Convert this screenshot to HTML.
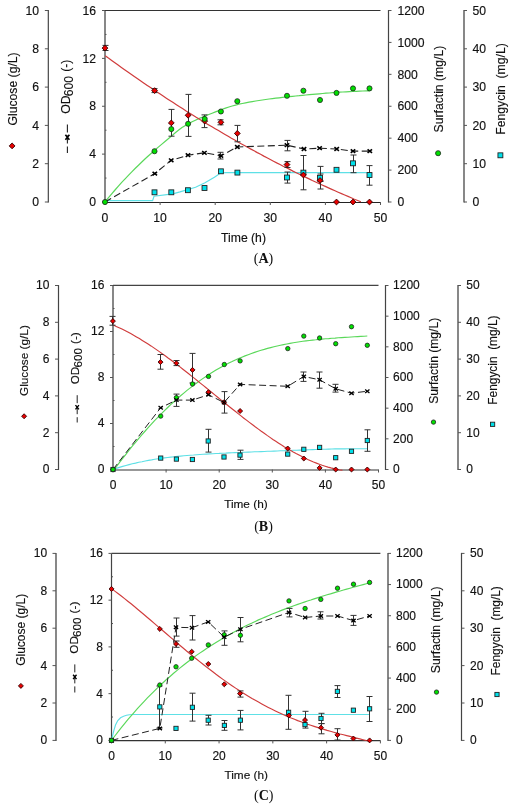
<!DOCTYPE html>
<html><head><meta charset="utf-8"><style>
html,body{margin:0;padding:0;background:#fff;}
svg{display:block;will-change:transform;}
text{font-family:"Liberation Sans", sans-serif;fill:#111;stroke:#111;stroke-width:0.15px;}
.cap{font-family:"Liberation Serif",serif;font-weight:bold;stroke-width:0;}
</style></head><body>
<svg width="512" height="809" viewBox="0 0 512 809">
<rect width="512" height="809" fill="#fff"/>
<line x1="48.35" y1="10" x2="48.35" y2="202.5" stroke="#555" stroke-width="1.3" />
<line x1="44.85" y1="202" x2="48.35" y2="202" stroke="#555" stroke-width="1" />
<text x="39" y="206.2" font-size="12.2" text-anchor="end" >0</text>
<line x1="44.85" y1="163.7" x2="48.35" y2="163.7" stroke="#555" stroke-width="1" />
<text x="39" y="167.9" font-size="12.2" text-anchor="end" >2</text>
<line x1="44.85" y1="125.4" x2="48.35" y2="125.4" stroke="#555" stroke-width="1" />
<text x="39" y="129.6" font-size="12.2" text-anchor="end" >4</text>
<line x1="44.85" y1="87.1" x2="48.35" y2="87.1" stroke="#555" stroke-width="1" />
<text x="39" y="91.3" font-size="12.2" text-anchor="end" >6</text>
<line x1="44.85" y1="48.8" x2="48.35" y2="48.8" stroke="#555" stroke-width="1" />
<text x="39" y="53" font-size="12.2" text-anchor="end" >8</text>
<line x1="44.85" y1="10.5" x2="48.35" y2="10.5" stroke="#555" stroke-width="1" />
<text x="39" y="14.7" font-size="12.2" text-anchor="end" >10</text>
<line x1="105" y1="10.5" x2="105" y2="202" stroke="#555" stroke-width="1.4" />
<line x1="102" y1="202" x2="105" y2="202" stroke="#555" stroke-width="1" />
<text x="96" y="206.2" font-size="12.2" text-anchor="end" >0</text>
<line x1="105" y1="178.06" x2="106.5" y2="178.06" stroke="#555" stroke-width="1" />
<line x1="102" y1="154.12" x2="105" y2="154.12" stroke="#555" stroke-width="1" />
<text x="96" y="158.32" font-size="12.2" text-anchor="end" >4</text>
<line x1="105" y1="130.19" x2="106.5" y2="130.19" stroke="#555" stroke-width="1" />
<line x1="102" y1="106.25" x2="105" y2="106.25" stroke="#555" stroke-width="1" />
<text x="96" y="110.45" font-size="12.2" text-anchor="end" >8</text>
<line x1="105" y1="82.31" x2="106.5" y2="82.31" stroke="#555" stroke-width="1" />
<line x1="102" y1="58.38" x2="105" y2="58.38" stroke="#555" stroke-width="1" />
<text x="96" y="62.58" font-size="12.2" text-anchor="end" >12</text>
<line x1="105" y1="34.44" x2="106.5" y2="34.44" stroke="#555" stroke-width="1" />
<line x1="102" y1="10.5" x2="105" y2="10.5" stroke="#555" stroke-width="1" />
<text x="96" y="14.7" font-size="12.2" text-anchor="end" >16</text>
<line x1="105" y1="10.5" x2="380.5" y2="10.5" stroke="#333" stroke-width="1" />
<line x1="105" y1="202.5" x2="380.5" y2="202.5" stroke="#222" stroke-width="1.15" />
<line x1="105" y1="202" x2="105" y2="205" stroke="#555" stroke-width="1" />
<text x="105" y="222.2" font-size="12.2" text-anchor="middle" >0</text>
<line x1="160.1" y1="202" x2="160.1" y2="205" stroke="#555" stroke-width="1" />
<text x="160.1" y="222.2" font-size="12.2" text-anchor="middle" >10</text>
<line x1="215.2" y1="202" x2="215.2" y2="205" stroke="#555" stroke-width="1" />
<text x="215.2" y="222.2" font-size="12.2" text-anchor="middle" >20</text>
<line x1="270.3" y1="202" x2="270.3" y2="205" stroke="#555" stroke-width="1" />
<text x="270.3" y="222.2" font-size="12.2" text-anchor="middle" >30</text>
<line x1="325.4" y1="202" x2="325.4" y2="205" stroke="#555" stroke-width="1" />
<text x="325.4" y="222.2" font-size="12.2" text-anchor="middle" >40</text>
<line x1="380.5" y1="202" x2="380.5" y2="205" stroke="#555" stroke-width="1" />
<text x="380.5" y="222.2" font-size="12.2" text-anchor="middle" >50</text>
<line x1="388.5" y1="10" x2="388.5" y2="202.5" stroke="#444" stroke-width="1.2" />
<line x1="388.5" y1="202" x2="391.5" y2="202" stroke="#555" stroke-width="1" />
<text x="397.4" y="206.2" font-size="12.2" text-anchor="start" >0</text>
<line x1="388.5" y1="170.08" x2="391.5" y2="170.08" stroke="#555" stroke-width="1" />
<text x="397.4" y="174.28" font-size="12.2" text-anchor="start" >200</text>
<line x1="388.5" y1="138.17" x2="391.5" y2="138.17" stroke="#555" stroke-width="1" />
<text x="397.4" y="142.37" font-size="12.2" text-anchor="start" >400</text>
<line x1="388.5" y1="106.25" x2="391.5" y2="106.25" stroke="#555" stroke-width="1" />
<text x="397.4" y="110.45" font-size="12.2" text-anchor="start" >600</text>
<line x1="388.5" y1="74.33" x2="391.5" y2="74.33" stroke="#555" stroke-width="1" />
<text x="397.4" y="78.53" font-size="12.2" text-anchor="start" >800</text>
<line x1="388.5" y1="42.42" x2="391.5" y2="42.42" stroke="#555" stroke-width="1" />
<text x="397.4" y="46.62" font-size="12.2" text-anchor="start" >1000</text>
<line x1="388.5" y1="10.5" x2="391.5" y2="10.5" stroke="#555" stroke-width="1" />
<text x="397.4" y="14.7" font-size="12.2" text-anchor="start" >1200</text>
<line x1="464" y1="10" x2="464" y2="202.5" stroke="#555" stroke-width="1.4" />
<line x1="464" y1="202" x2="467" y2="202" stroke="#555" stroke-width="1" />
<text x="472.4" y="206.2" font-size="12.2" text-anchor="start" >0</text>
<line x1="464" y1="163.7" x2="467" y2="163.7" stroke="#555" stroke-width="1" />
<text x="472.4" y="167.9" font-size="12.2" text-anchor="start" >10</text>
<line x1="464" y1="125.4" x2="467" y2="125.4" stroke="#555" stroke-width="1" />
<text x="472.4" y="129.6" font-size="12.2" text-anchor="start" >20</text>
<line x1="464" y1="87.1" x2="467" y2="87.1" stroke="#555" stroke-width="1" />
<text x="472.4" y="91.3" font-size="12.2" text-anchor="start" >30</text>
<line x1="464" y1="48.8" x2="467" y2="48.8" stroke="#555" stroke-width="1" />
<text x="472.4" y="53" font-size="12.2" text-anchor="start" >40</text>
<line x1="464" y1="10.5" x2="467" y2="10.5" stroke="#555" stroke-width="1" />
<text x="472.4" y="14.7" font-size="12.2" text-anchor="start" >50</text>
<text transform="translate(16.8,88.9) rotate(-90)" font-size="12.2" text-anchor="middle">Glucose (g/L)</text>
<text transform="translate(70.3,86.7) rotate(-90)" font-size="12.2" text-anchor="middle">OD<tspan dx="-0.8" dy="3">600</tspan><tspan dx="0.8" dy="-3"> (-)</tspan></text>
<text transform="translate(442.7,89.1) rotate(-90)" font-size="12.2" text-anchor="middle">Surfactin (mg/L)</text>
<text transform="translate(504.6,89) rotate(-90)" font-size="12.2" text-anchor="middle">Fengycin&#160; (mg/L)</text>
<text x="243.5" y="242" font-size="12.2" text-anchor="middle" >Time (h)</text>
<text x="263.5" y="263.4" font-size="14" text-anchor="middle" class="cap"><tspan style="font-weight:normal">(</tspan>A<tspan style="font-weight:normal">)</tspan></text>
<path d="M12.1,143 L15,145.9 L12.1,148.8 L9.2,145.9 Z" fill="#e80000" stroke="#300" stroke-width="0.9"/>
<line x1="67.4" y1="124.4" x2="67.4" y2="152.9" stroke="#222" stroke-width="1.1" stroke-dasharray="8,3"/>
<path d="M65.4,134.7 L69.4,139.7 M65.4,139.7 L69.4,134.7" stroke="#000" stroke-width="1.6"/>
<circle cx="438.1" cy="153.2" r="2.55" fill="#00e000" stroke="#222" stroke-width="0.8"/>
<rect x="497.95" y="152.85" width="4.9" height="4.9" fill="#00e0ea" stroke="#222" stroke-width="0.9"/>
<path d="M105.0,200.6 L152.6,200.6 L154.0,196.2 L172.8,193.8 L180.0,191.9 L195.6,187.2 L205.0,182.8 L214.4,177.3 L220.6,173.0 L226.0,172.7 L369.5,172.7" fill="none" stroke="#5ee0e6" stroke-width="1.2"/>
<path d="M105.0,202.0 L108.3,197.9 L111.7,193.9 L115.0,190.0 L118.4,186.1 L121.7,182.4 L125.1,178.8 L128.4,175.3 L131.8,171.9 L135.1,168.5 L138.5,165.2 L141.8,162.0 L145.2,158.8 L148.5,155.7 L151.9,152.7 L155.2,149.8 L158.6,146.9 L161.9,144.1 L165.3,141.3 L168.6,138.5 L172.0,135.6 L175.3,132.7 L178.7,130.0 L182.0,127.5 L185.4,125.4 L188.7,123.6 L192.1,121.8 L195.4,120.2 L198.7,118.6 L202.1,117.2 L205.4,115.8 L208.8,114.5 L212.1,113.2 L215.5,111.9 L218.8,110.6 L222.2,109.3 L225.5,108.1 L228.9,107.0 L232.2,106.0 L235.6,105.1 L238.9,104.2 L242.3,103.5 L245.6,102.8 L249.0,102.2 L252.3,101.6 L255.7,101.0 L259.0,100.5 L262.4,100.0 L265.7,99.5 L269.1,99.0 L272.4,98.6 L275.8,98.2 L279.1,97.8 L282.4,97.4 L285.8,97.0 L289.1,96.7 L292.5,96.3 L295.8,96.0 L299.2,95.7 L302.5,95.3 L305.9,95.0 L309.2,94.7 L312.6,94.4 L315.9,94.1 L319.3,93.8 L322.6,93.5 L326.0,93.2 L329.3,93.0 L332.7,92.7 L336.0,92.5 L339.4,92.2 L342.7,92.0 L346.1,91.8 L349.4,91.6 L352.8,91.4 L356.1,91.3 L359.5,91.1 L362.8,91.0 L366.2,90.9 L369.5,90.8" fill="none" stroke="#5ad85a" stroke-width="1.2"/>
<path d="M105.2,55.7 L108.4,58.1 L111.7,60.4 L114.9,62.8 L118.1,65.1 L121.4,67.4 L124.6,69.7 L127.9,72.0 L131.1,74.3 L134.3,76.5 L137.6,78.8 L140.8,81.0 L144.0,83.2 L147.3,85.4 L150.5,87.6 L153.8,89.8 L157.0,92.0 L160.2,94.1 L163.5,96.3 L166.7,98.4 L169.9,100.5 L173.2,102.6 L176.4,104.7 L179.6,106.8 L182.9,108.8 L186.1,110.9 L189.4,112.9 L192.6,114.9 L195.8,117.0 L199.1,118.9 L202.3,120.9 L205.5,122.9 L208.8,124.9 L212.0,126.8 L215.2,128.7 L218.5,130.6 L221.7,132.5 L225.0,134.4 L228.2,136.3 L231.4,138.2 L234.7,140.0 L237.9,141.9 L241.1,143.7 L244.4,145.5 L247.6,147.3 L250.9,149.1 L254.1,150.8 L257.3,152.6 L260.6,154.3 L263.8,156.1 L267.0,157.8 L270.3,159.5 L273.5,161.2 L276.7,162.9 L280.0,164.5 L283.2,166.2 L286.5,167.8 L289.7,169.4 L292.9,171.1 L296.2,172.7 L299.4,174.2 L302.6,175.8 L305.9,177.4 L309.1,178.9 L312.3,180.5 L315.6,182.0 L318.8,183.5 L322.1,185.0 L325.3,186.4 L328.5,187.9 L331.8,189.4 L335.0,190.8 L338.2,192.2 L341.5,193.6 L344.7,195.0 L348.0,196.4 L351.2,197.8 L354.4,199.2 L357.7,200.5 L360.9,201.8" fill="none" stroke="#d03c3c" stroke-width="1.2"/>
<path d="M105.0,202.0 L154.8,173.6 L171.2,160.3 L188.0,155.2 L204.4,152.8 L220.9,155.8 L237.3,147.0 L287.0,145.2 L304.0,149.0 L319.6,148.2 L336.7,149.0 L353.0,151.1 L369.8,151.1" fill="none" stroke="#222" stroke-width="1.1" stroke-dasharray="7,3.5"/>
<line x1="105.5" y1="45.4" x2="105.5" y2="50.5" stroke="#333" stroke-width="1" />
<line x1="102.5" y1="45.4" x2="108.5" y2="45.4" stroke="#333" stroke-width="1" />
<line x1="102.5" y1="50.5" x2="108.5" y2="50.5" stroke="#333" stroke-width="1" />
<line x1="154.5" y1="88.6" x2="154.5" y2="92.6" stroke="#333" stroke-width="1" />
<line x1="151.5" y1="88.6" x2="157.5" y2="88.6" stroke="#333" stroke-width="1" />
<line x1="151.5" y1="92.6" x2="157.5" y2="92.6" stroke="#333" stroke-width="1" />
<line x1="171.5" y1="109.4" x2="171.5" y2="136.2" stroke="#333" stroke-width="1" />
<line x1="168.5" y1="109.4" x2="174.5" y2="109.4" stroke="#333" stroke-width="1" />
<line x1="168.5" y1="136.2" x2="174.5" y2="136.2" stroke="#333" stroke-width="1" />
<line x1="188.5" y1="94.4" x2="188.5" y2="136.4" stroke="#333" stroke-width="1" />
<line x1="185.5" y1="94.4" x2="191.5" y2="94.4" stroke="#333" stroke-width="1" />
<line x1="185.5" y1="136.4" x2="191.5" y2="136.4" stroke="#333" stroke-width="1" />
<line x1="204.5" y1="114.9" x2="204.5" y2="127.6" stroke="#333" stroke-width="1" />
<line x1="201.5" y1="114.9" x2="207.5" y2="114.9" stroke="#333" stroke-width="1" />
<line x1="201.5" y1="127.6" x2="207.5" y2="127.6" stroke="#333" stroke-width="1" />
<line x1="237.5" y1="125.4" x2="237.5" y2="141.8" stroke="#333" stroke-width="1" />
<line x1="234.5" y1="125.4" x2="240.5" y2="125.4" stroke="#333" stroke-width="1" />
<line x1="234.5" y1="141.8" x2="240.5" y2="141.8" stroke="#333" stroke-width="1" />
<line x1="287.5" y1="161.6" x2="287.5" y2="167.5" stroke="#333" stroke-width="1" />
<line x1="284.5" y1="161.6" x2="290.5" y2="161.6" stroke="#333" stroke-width="1" />
<line x1="284.5" y1="167.5" x2="290.5" y2="167.5" stroke="#333" stroke-width="1" />
<line x1="303.5" y1="155.5" x2="303.5" y2="189.8" stroke="#333" stroke-width="1" />
<line x1="300.5" y1="155.5" x2="306.5" y2="155.5" stroke="#333" stroke-width="1" />
<line x1="300.5" y1="189.8" x2="306.5" y2="189.8" stroke="#333" stroke-width="1" />
<line x1="320.5" y1="166.4" x2="320.5" y2="189" stroke="#333" stroke-width="1" />
<line x1="317.5" y1="166.4" x2="323.5" y2="166.4" stroke="#333" stroke-width="1" />
<line x1="317.5" y1="189" x2="323.5" y2="189" stroke="#333" stroke-width="1" />
<line x1="287.5" y1="140.4" x2="287.5" y2="150.8" stroke="#333" stroke-width="1" />
<line x1="284.5" y1="140.4" x2="290.5" y2="140.4" stroke="#333" stroke-width="1" />
<line x1="284.5" y1="150.8" x2="290.5" y2="150.8" stroke="#333" stroke-width="1" />
<line x1="220.5" y1="152.3" x2="220.5" y2="159" stroke="#333" stroke-width="1" />
<line x1="217.5" y1="152.3" x2="223.5" y2="152.3" stroke="#333" stroke-width="1" />
<line x1="217.5" y1="159" x2="223.5" y2="159" stroke="#333" stroke-width="1" />
<line x1="220.5" y1="119.8" x2="220.5" y2="124.8" stroke="#333" stroke-width="1" />
<line x1="217.5" y1="119.8" x2="223.5" y2="119.8" stroke="#333" stroke-width="1" />
<line x1="217.5" y1="124.8" x2="223.5" y2="124.8" stroke="#333" stroke-width="1" />
<line x1="287.5" y1="172" x2="287.5" y2="183.1" stroke="#333" stroke-width="1" />
<line x1="284.5" y1="172" x2="290.5" y2="172" stroke="#333" stroke-width="1" />
<line x1="284.5" y1="183.1" x2="290.5" y2="183.1" stroke="#333" stroke-width="1" />
<line x1="353.5" y1="155" x2="353.5" y2="172.7" stroke="#333" stroke-width="1" />
<line x1="350.5" y1="155" x2="356.5" y2="155" stroke="#333" stroke-width="1" />
<line x1="350.5" y1="172.7" x2="356.5" y2="172.7" stroke="#333" stroke-width="1" />
<line x1="369.5" y1="165.6" x2="369.5" y2="185.2" stroke="#333" stroke-width="1" />
<line x1="366.5" y1="165.6" x2="372.5" y2="165.6" stroke="#333" stroke-width="1" />
<line x1="366.5" y1="185.2" x2="372.5" y2="185.2" stroke="#333" stroke-width="1" />
<line x1="320.5" y1="174" x2="320.5" y2="181.5" stroke="#333" stroke-width="1" />
<line x1="317.5" y1="174" x2="323.5" y2="174" stroke="#333" stroke-width="1" />
<line x1="317.5" y1="181.5" x2="323.5" y2="181.5" stroke="#333" stroke-width="1" />
<rect x="152.05" y="189.85" width="4.9" height="4.9" fill="#00e0ea" stroke="#222" stroke-width="0.9"/>
<rect x="168.85" y="189.85" width="4.9" height="4.9" fill="#00e0ea" stroke="#222" stroke-width="0.9"/>
<rect x="185.45" y="187.75" width="4.9" height="4.9" fill="#00e0ea" stroke="#222" stroke-width="0.9"/>
<rect x="202.05" y="185.55" width="4.9" height="4.9" fill="#00e0ea" stroke="#222" stroke-width="0.9"/>
<rect x="218.45" y="168.85" width="4.9" height="4.9" fill="#00e0ea" stroke="#222" stroke-width="0.9"/>
<rect x="234.95" y="170.15" width="4.9" height="4.9" fill="#00e0ea" stroke="#222" stroke-width="0.9"/>
<rect x="284.55" y="175.05" width="4.9" height="4.9" fill="#00e0ea" stroke="#222" stroke-width="0.9"/>
<rect x="300.95" y="170.15" width="4.9" height="4.9" fill="#00e0ea" stroke="#222" stroke-width="0.9"/>
<rect x="317.55" y="175.35" width="4.9" height="4.9" fill="#00e0ea" stroke="#222" stroke-width="0.9"/>
<rect x="334.05" y="167.35" width="4.9" height="4.9" fill="#00e0ea" stroke="#222" stroke-width="0.9"/>
<rect x="350.55" y="160.85" width="4.9" height="4.9" fill="#00e0ea" stroke="#222" stroke-width="0.9"/>
<rect x="367.05" y="172.55" width="4.9" height="4.9" fill="#00e0ea" stroke="#222" stroke-width="0.9"/>
<path d="M105,45.2 L107.9,48.1 L105,51 L102.1,48.1 Z" fill="#e80000" stroke="#300" stroke-width="0.9"/>
<path d="M154.6,87.7 L157.5,90.6 L154.6,93.5 L151.7,90.6 Z" fill="#e80000" stroke="#300" stroke-width="0.9"/>
<path d="M171.3,120 L174.2,122.9 L171.3,125.8 L168.4,122.9 Z" fill="#e80000" stroke="#300" stroke-width="0.9"/>
<path d="M188.1,112.4 L191,115.3 L188.1,118.2 L185.2,115.3 Z" fill="#e80000" stroke="#300" stroke-width="0.9"/>
<path d="M204.7,118.2 L207.6,121.1 L204.7,124 L201.8,121.1 Z" fill="#e80000" stroke="#300" stroke-width="0.9"/>
<path d="M220.9,119.4 L223.8,122.3 L220.9,125.2 L218,122.3 Z" fill="#e80000" stroke="#300" stroke-width="0.9"/>
<path d="M237.3,130.5 L240.2,133.4 L237.3,136.3 L234.4,133.4 Z" fill="#e80000" stroke="#300" stroke-width="0.9"/>
<path d="M287,161.7 L289.9,164.6 L287,167.5 L284.1,164.6 Z" fill="#e80000" stroke="#300" stroke-width="0.9"/>
<path d="M303.4,172.1 L306.3,175 L303.4,177.9 L300.5,175 Z" fill="#e80000" stroke="#300" stroke-width="0.9"/>
<path d="M320,177.6 L322.9,180.5 L320,183.4 L317.1,180.5 Z" fill="#e80000" stroke="#300" stroke-width="0.9"/>
<path d="M336.5,199.1 L339.4,202 L336.5,204.9 L333.6,202 Z" fill="#e80000" stroke="#300" stroke-width="0.9"/>
<path d="M353,199.1 L355.9,202 L353,204.9 L350.1,202 Z" fill="#e80000" stroke="#300" stroke-width="0.9"/>
<path d="M369.5,199.1 L372.4,202 L369.5,204.9 L366.6,202 Z" fill="#e80000" stroke="#300" stroke-width="0.9"/>
<circle cx="105" cy="202" r="2.55" fill="#00e000" stroke="#222" stroke-width="0.8"/>
<circle cx="154.5" cy="151.2" r="2.55" fill="#00e000" stroke="#222" stroke-width="0.8"/>
<circle cx="171.3" cy="129.1" r="2.55" fill="#00e000" stroke="#222" stroke-width="0.8"/>
<circle cx="188.1" cy="123.8" r="2.55" fill="#00e000" stroke="#222" stroke-width="0.8"/>
<circle cx="204.7" cy="118.9" r="2.55" fill="#00e000" stroke="#222" stroke-width="0.8"/>
<circle cx="220.9" cy="111.5" r="2.55" fill="#00e000" stroke="#222" stroke-width="0.8"/>
<circle cx="237.3" cy="101.2" r="2.55" fill="#00e000" stroke="#222" stroke-width="0.8"/>
<circle cx="287" cy="95.8" r="2.55" fill="#00e000" stroke="#222" stroke-width="0.8"/>
<circle cx="303.4" cy="90.7" r="2.55" fill="#00e000" stroke="#222" stroke-width="0.8"/>
<circle cx="320" cy="100" r="2.55" fill="#00e000" stroke="#222" stroke-width="0.8"/>
<circle cx="336.5" cy="92.9" r="2.55" fill="#00e000" stroke="#222" stroke-width="0.8"/>
<circle cx="353" cy="88.4" r="2.55" fill="#00e000" stroke="#222" stroke-width="0.8"/>
<circle cx="369.5" cy="88.4" r="2.55" fill="#00e000" stroke="#222" stroke-width="0.8"/>
<path d="M152.55,171.8 L157.05,175.4 M152.55,175.4 L157.05,171.8" stroke="#000" stroke-width="1.6"/>
<path d="M168.95,158.5 L173.45,162.1 M168.95,162.1 L173.45,158.5" stroke="#000" stroke-width="1.6"/>
<path d="M185.75,153.4 L190.25,157 M185.75,157 L190.25,153.4" stroke="#000" stroke-width="1.6"/>
<path d="M202.15,151 L206.65,154.6 M202.15,154.6 L206.65,151" stroke="#000" stroke-width="1.6"/>
<path d="M218.65,154 L223.15,157.6 M218.65,157.6 L223.15,154" stroke="#000" stroke-width="1.6"/>
<path d="M235.05,145.2 L239.55,148.8 M235.05,148.8 L239.55,145.2" stroke="#000" stroke-width="1.6"/>
<path d="M284.75,143.4 L289.25,147 M284.75,147 L289.25,143.4" stroke="#000" stroke-width="1.6"/>
<path d="M301.75,147.2 L306.25,150.8 M301.75,150.8 L306.25,147.2" stroke="#000" stroke-width="1.6"/>
<path d="M317.35,146.4 L321.85,150 M317.35,150 L321.85,146.4" stroke="#000" stroke-width="1.6"/>
<path d="M334.45,147.2 L338.95,150.8 M334.45,150.8 L338.95,147.2" stroke="#000" stroke-width="1.6"/>
<path d="M350.75,149.3 L355.25,152.9 M350.75,152.9 L355.25,149.3" stroke="#000" stroke-width="1.6"/>
<path d="M367.55,149.3 L372.05,152.9 M367.55,152.9 L372.05,149.3" stroke="#000" stroke-width="1.6"/>
<line x1="58.5" y1="285" x2="58.5" y2="470" stroke="#444" stroke-width="1.2" />
<line x1="55" y1="469.5" x2="58.5" y2="469.5" stroke="#555" stroke-width="1" />
<text x="49.4" y="473.4" font-size="12" text-anchor="end" >0</text>
<line x1="55" y1="432.7" x2="58.5" y2="432.7" stroke="#555" stroke-width="1" />
<text x="49.4" y="436.6" font-size="12" text-anchor="end" >2</text>
<line x1="55" y1="395.9" x2="58.5" y2="395.9" stroke="#555" stroke-width="1" />
<text x="49.4" y="399.8" font-size="12" text-anchor="end" >4</text>
<line x1="55" y1="359.1" x2="58.5" y2="359.1" stroke="#555" stroke-width="1" />
<text x="49.4" y="363" font-size="12" text-anchor="end" >6</text>
<line x1="55" y1="322.3" x2="58.5" y2="322.3" stroke="#555" stroke-width="1" />
<text x="49.4" y="326.2" font-size="12" text-anchor="end" >8</text>
<line x1="55" y1="285.5" x2="58.5" y2="285.5" stroke="#555" stroke-width="1" />
<text x="49.4" y="289.4" font-size="12" text-anchor="end" >10</text>
<line x1="113" y1="285.5" x2="113" y2="469.5" stroke="#555" stroke-width="1.4" />
<line x1="110" y1="469.5" x2="113" y2="469.5" stroke="#555" stroke-width="1" />
<text x="104.4" y="473.4" font-size="12" text-anchor="end" >0</text>
<line x1="113" y1="446.5" x2="114.5" y2="446.5" stroke="#555" stroke-width="1" />
<line x1="110" y1="423.5" x2="113" y2="423.5" stroke="#555" stroke-width="1" />
<text x="104.4" y="427.4" font-size="12" text-anchor="end" >4</text>
<line x1="113" y1="400.5" x2="114.5" y2="400.5" stroke="#555" stroke-width="1" />
<line x1="110" y1="377.5" x2="113" y2="377.5" stroke="#555" stroke-width="1" />
<text x="104.4" y="381.4" font-size="12" text-anchor="end" >8</text>
<line x1="113" y1="354.5" x2="114.5" y2="354.5" stroke="#555" stroke-width="1" />
<line x1="110" y1="331.5" x2="113" y2="331.5" stroke="#555" stroke-width="1" />
<text x="104.4" y="335.4" font-size="12" text-anchor="end" >12</text>
<line x1="113" y1="308.5" x2="114.5" y2="308.5" stroke="#555" stroke-width="1" />
<line x1="110" y1="285.5" x2="113" y2="285.5" stroke="#555" stroke-width="1" />
<text x="104.4" y="289.4" font-size="12" text-anchor="end" >16</text>
<line x1="113" y1="285.3" x2="378.5" y2="285.3" stroke="#444" stroke-width="1.2" />
<line x1="113" y1="470" x2="378.5" y2="470" stroke="#333" stroke-width="1.15" />
<line x1="113" y1="469.5" x2="113" y2="472.5" stroke="#555" stroke-width="1" />
<text x="113" y="488.9" font-size="12" text-anchor="middle" >0</text>
<line x1="166.1" y1="469.5" x2="166.1" y2="472.5" stroke="#555" stroke-width="1" />
<text x="166.1" y="488.9" font-size="12" text-anchor="middle" >10</text>
<line x1="219.2" y1="469.5" x2="219.2" y2="472.5" stroke="#555" stroke-width="1" />
<text x="219.2" y="488.9" font-size="12" text-anchor="middle" >20</text>
<line x1="272.3" y1="469.5" x2="272.3" y2="472.5" stroke="#555" stroke-width="1" />
<text x="272.3" y="488.9" font-size="12" text-anchor="middle" >30</text>
<line x1="325.4" y1="469.5" x2="325.4" y2="472.5" stroke="#555" stroke-width="1" />
<text x="325.4" y="488.9" font-size="12" text-anchor="middle" >40</text>
<line x1="378.5" y1="469.5" x2="378.5" y2="472.5" stroke="#555" stroke-width="1" />
<text x="378.5" y="488.9" font-size="12" text-anchor="middle" >50</text>
<line x1="385.5" y1="285" x2="385.5" y2="470" stroke="#444" stroke-width="1.2" />
<line x1="385.5" y1="469.5" x2="388.5" y2="469.5" stroke="#555" stroke-width="1" />
<text x="393.1" y="473.4" font-size="12" text-anchor="start" >0</text>
<line x1="385.5" y1="438.83" x2="388.5" y2="438.83" stroke="#555" stroke-width="1" />
<text x="393.1" y="442.73" font-size="12" text-anchor="start" >200</text>
<line x1="385.5" y1="408.17" x2="388.5" y2="408.17" stroke="#555" stroke-width="1" />
<text x="393.1" y="412.07" font-size="12" text-anchor="start" >400</text>
<line x1="385.5" y1="377.5" x2="388.5" y2="377.5" stroke="#555" stroke-width="1" />
<text x="393.1" y="381.4" font-size="12" text-anchor="start" >600</text>
<line x1="385.5" y1="346.83" x2="388.5" y2="346.83" stroke="#555" stroke-width="1" />
<text x="393.1" y="350.73" font-size="12" text-anchor="start" >800</text>
<line x1="385.5" y1="316.17" x2="388.5" y2="316.17" stroke="#555" stroke-width="1" />
<text x="393.1" y="320.07" font-size="12" text-anchor="start" >1000</text>
<line x1="385.5" y1="285.5" x2="388.5" y2="285.5" stroke="#555" stroke-width="1" />
<text x="393.1" y="289.4" font-size="12" text-anchor="start" >1200</text>
<line x1="458" y1="285" x2="458" y2="470" stroke="#555" stroke-width="1.4" />
<line x1="458" y1="469.5" x2="461" y2="469.5" stroke="#555" stroke-width="1" />
<text x="466.3" y="473.4" font-size="12" text-anchor="start" >0</text>
<line x1="458" y1="432.7" x2="461" y2="432.7" stroke="#555" stroke-width="1" />
<text x="466.3" y="436.6" font-size="12" text-anchor="start" >10</text>
<line x1="458" y1="395.9" x2="461" y2="395.9" stroke="#555" stroke-width="1" />
<text x="466.3" y="399.8" font-size="12" text-anchor="start" >20</text>
<line x1="458" y1="359.1" x2="461" y2="359.1" stroke="#555" stroke-width="1" />
<text x="466.3" y="363" font-size="12" text-anchor="start" >30</text>
<line x1="458" y1="322.3" x2="461" y2="322.3" stroke="#555" stroke-width="1" />
<text x="466.3" y="326.2" font-size="12" text-anchor="start" >40</text>
<line x1="458" y1="285.5" x2="461" y2="285.5" stroke="#555" stroke-width="1" />
<text x="466.3" y="289.4" font-size="12" text-anchor="start" >50</text>
<text transform="translate(28.2,360.6) rotate(-90)" font-size="11.8" text-anchor="middle">Glucose (g/L)</text>
<text transform="translate(79.2,358.3) rotate(-90)" font-size="11.7" text-anchor="middle">OD<tspan dx="-0.8" dy="3">600</tspan><tspan dx="0.8" dy="-3"> (-)</tspan></text>
<text transform="translate(437.6,360.8) rotate(-90)" font-size="12.1" text-anchor="middle">Surfactin (mg/L)</text>
<text transform="translate(497.1,360.1) rotate(-90)" font-size="11.9" text-anchor="middle">Fengycin&#160; (mg/L)</text>
<text x="245.9" y="507.7" font-size="11.8" text-anchor="middle" >Time (h)</text>
<text x="263.5" y="531" font-size="14" text-anchor="middle" class="cap"><tspan style="font-weight:normal">(</tspan>B<tspan style="font-weight:normal">)</tspan></text>
<path d="M24.1,413.76 L26.59,416.25 L24.1,418.74 L21.61,416.25 Z" fill="#e80000" stroke="#300" stroke-width="0.9"/>
<line x1="77.2" y1="395.2" x2="77.2" y2="422.5" stroke="#222" stroke-width="1.0" stroke-dasharray="8,3"/>
<path d="M75.48,405.05 L78.92,409.35 M75.48,409.35 L78.92,405.05" stroke="#000" stroke-width="1.35"/>
<circle cx="433.5" cy="422.1" r="2.1929999999999996" fill="#00e000" stroke="#222" stroke-width="0.8"/>
<rect x="490.49" y="422.19" width="4.214" height="4.214" fill="#00e0ea" stroke="#222" stroke-width="0.9"/>
<path d="M113.0,469.4 L116.2,468.4 L119.4,467.4 L122.7,466.4 L125.9,465.5 L129.1,464.6 L132.3,463.8 L135.5,463.1 L138.8,462.3 L142.0,461.7 L145.2,461.0 L148.4,460.4 L151.6,459.9 L154.8,459.3 L158.1,458.8 L161.3,458.3 L164.5,457.9 L167.7,457.5 L170.9,457.1 L174.2,456.7 L177.4,456.4 L180.6,456.1 L183.8,455.8 L187.0,455.5 L190.3,455.2 L193.5,455.0 L196.7,454.7 L199.9,454.5 L203.1,454.3 L206.4,454.1 L209.6,453.9 L212.8,453.7 L216.0,453.5 L219.2,453.4 L222.4,453.2 L225.7,453.1 L228.9,452.9 L232.1,452.8 L235.3,452.6 L238.5,452.5 L241.8,452.4 L245.0,452.2 L248.2,452.1 L251.4,452.0 L254.6,451.8 L257.9,451.7 L261.1,451.6 L264.3,451.5 L267.5,451.3 L270.7,451.2 L273.9,451.1 L277.2,451.0 L280.4,450.8 L283.6,450.7 L286.8,450.6 L290.0,450.5 L293.3,450.3 L296.5,450.2 L299.7,450.1 L302.9,450.0 L306.1,449.9 L309.4,449.7 L312.6,449.6 L315.8,449.5 L319.0,449.4 L322.2,449.3 L325.5,449.2 L328.7,449.1 L331.9,449.0 L335.1,448.9 L338.3,448.9 L341.5,448.8 L344.8,448.8 L348.0,448.7 L351.2,448.7 L354.4,448.7 L357.6,448.7 L360.9,448.7 L364.1,448.7 L367.3,448.8" fill="none" stroke="#5ee0e6" stroke-width="1.15"/>
<path d="M113.0,471.4 L116.2,467.0 L119.4,462.7 L122.7,458.4 L125.9,454.3 L129.1,450.2 L132.3,446.2 L135.5,442.3 L138.8,438.4 L142.0,434.7 L145.2,431.0 L148.4,427.4 L151.6,423.9 L154.8,420.4 L158.1,417.1 L161.3,413.8 L164.5,410.6 L167.7,407.5 L170.9,404.4 L174.2,401.5 L177.4,398.6 L180.6,395.8 L183.8,393.1 L187.0,390.4 L190.3,387.9 L193.5,385.4 L196.7,383.0 L199.9,380.6 L203.1,378.4 L206.4,376.2 L209.6,374.1 L212.8,372.1 L216.0,370.1 L219.2,368.3 L222.4,366.5 L225.7,364.8 L228.9,363.1 L232.1,361.6 L235.3,360.0 L238.5,358.6 L241.8,357.2 L245.0,355.9 L248.2,354.7 L251.4,353.5 L254.6,352.4 L257.9,351.3 L261.1,350.3 L264.3,349.4 L267.5,348.4 L270.7,347.6 L273.9,346.8 L277.2,346.0 L280.4,345.3 L283.6,344.6 L286.8,344.0 L290.0,343.4 L293.3,342.8 L296.5,342.3 L299.7,341.8 L302.9,341.3 L306.1,340.9 L309.4,340.5 L312.6,340.1 L315.8,339.8 L319.0,339.4 L322.2,339.1 L325.5,338.8 L328.7,338.6 L331.9,338.3 L335.1,338.1 L338.3,337.8 L341.5,337.6 L344.8,337.4 L348.0,337.2 L351.2,337.0 L354.4,336.8 L357.6,336.6 L360.9,336.4 L364.1,336.2 L367.3,336.0" fill="none" stroke="#5ad85a" stroke-width="1.15"/>
<path d="M113.3,325.1 L116.2,326.4 L119.1,327.7 L122.0,329.1 L124.9,330.5 L127.8,332.0 L130.7,333.6 L133.6,335.2 L136.5,336.9 L139.4,338.6 L142.3,340.4 L145.2,342.2 L148.1,344.0 L151.0,345.9 L153.9,347.9 L156.8,349.9 L159.7,351.9 L162.6,354.0 L165.5,356.0 L168.4,358.2 L171.3,360.3 L174.2,362.5 L177.1,364.7 L180.0,366.9 L182.9,369.2 L185.8,371.5 L188.7,373.8 L191.6,376.1 L194.5,378.4 L197.4,380.7 L200.3,383.1 L203.2,385.4 L206.1,387.8 L209.0,390.1 L211.9,392.5 L214.8,394.9 L217.7,397.2 L220.6,399.6 L223.5,402.0 L226.4,404.3 L229.4,406.7 L232.3,409.0 L235.2,411.3 L238.1,413.6 L241.0,415.9 L243.9,418.2 L246.8,420.4 L249.7,422.6 L252.6,424.8 L255.5,427.0 L258.4,429.1 L261.3,431.3 L264.2,433.3 L267.1,435.4 L270.0,437.4 L272.9,439.4 L275.8,441.3 L278.7,443.2 L281.6,445.1 L284.5,446.9 L287.4,448.6 L290.3,450.3 L293.2,452.0 L296.1,453.6 L299.0,455.1 L301.9,456.6 L304.8,458.0 L307.7,459.4 L310.6,460.7 L313.5,462.0 L316.4,463.1 L319.3,464.2 L322.2,465.3 L325.1,466.2 L328.0,467.1 L330.9,467.9 L333.8,468.6 L336.7,469.3 L339.6,469.9 L342.5,470.3" fill="none" stroke="#d03c3c" stroke-width="1.15"/>
<path d="M113.0,469.5 L160.7,407.7 L176.4,400.1 L192.4,400.1 L208.5,394.8 L224.0,402.5 L240.1,384.4 L287.7,386.3 L303.8,376.5 L319.6,379.8 L335.7,388.8 L351.5,393.2 L367.3,391.2" fill="none" stroke="#222" stroke-width="1.0" stroke-dasharray="7,3.5"/>
<line x1="112.5" y1="316.4" x2="112.5" y2="325.2" stroke="#333" stroke-width="1" />
<line x1="109.5" y1="316.4" x2="115.5" y2="316.4" stroke="#333" stroke-width="1" />
<line x1="109.5" y1="325.2" x2="115.5" y2="325.2" stroke="#333" stroke-width="1" />
<line x1="160.5" y1="354.5" x2="160.5" y2="369.2" stroke="#333" stroke-width="1" />
<line x1="157.5" y1="354.5" x2="163.5" y2="354.5" stroke="#333" stroke-width="1" />
<line x1="157.5" y1="369.2" x2="163.5" y2="369.2" stroke="#333" stroke-width="1" />
<line x1="176.5" y1="360.5" x2="176.5" y2="365.6" stroke="#333" stroke-width="1" />
<line x1="173.5" y1="360.5" x2="179.5" y2="360.5" stroke="#333" stroke-width="1" />
<line x1="173.5" y1="365.6" x2="179.5" y2="365.6" stroke="#333" stroke-width="1" />
<line x1="192.5" y1="353.4" x2="192.5" y2="383" stroke="#333" stroke-width="1" />
<line x1="189.5" y1="353.4" x2="195.5" y2="353.4" stroke="#333" stroke-width="1" />
<line x1="189.5" y1="383" x2="195.5" y2="383" stroke="#333" stroke-width="1" />
<line x1="224.5" y1="391.6" x2="224.5" y2="413.1" stroke="#333" stroke-width="1" />
<line x1="221.5" y1="391.6" x2="227.5" y2="391.6" stroke="#333" stroke-width="1" />
<line x1="221.5" y1="413.1" x2="227.5" y2="413.1" stroke="#333" stroke-width="1" />
<line x1="176.5" y1="394.1" x2="176.5" y2="406.4" stroke="#333" stroke-width="1" />
<line x1="173.5" y1="394.1" x2="179.5" y2="394.1" stroke="#333" stroke-width="1" />
<line x1="173.5" y1="406.4" x2="179.5" y2="406.4" stroke="#333" stroke-width="1" />
<line x1="303.5" y1="372" x2="303.5" y2="381.4" stroke="#333" stroke-width="1" />
<line x1="300.5" y1="372" x2="306.5" y2="372" stroke="#333" stroke-width="1" />
<line x1="300.5" y1="381.4" x2="306.5" y2="381.4" stroke="#333" stroke-width="1" />
<line x1="319.5" y1="372" x2="319.5" y2="388.2" stroke="#333" stroke-width="1" />
<line x1="316.5" y1="372" x2="322.5" y2="372" stroke="#333" stroke-width="1" />
<line x1="316.5" y1="388.2" x2="322.5" y2="388.2" stroke="#333" stroke-width="1" />
<line x1="335.5" y1="384.3" x2="335.5" y2="392.1" stroke="#333" stroke-width="1" />
<line x1="332.5" y1="384.3" x2="338.5" y2="384.3" stroke="#333" stroke-width="1" />
<line x1="332.5" y1="392.1" x2="338.5" y2="392.1" stroke="#333" stroke-width="1" />
<line x1="208.5" y1="429.3" x2="208.5" y2="452.1" stroke="#333" stroke-width="1" />
<line x1="205.5" y1="429.3" x2="211.5" y2="429.3" stroke="#333" stroke-width="1" />
<line x1="205.5" y1="452.1" x2="211.5" y2="452.1" stroke="#333" stroke-width="1" />
<line x1="240.5" y1="450.2" x2="240.5" y2="459.4" stroke="#333" stroke-width="1" />
<line x1="237.5" y1="450.2" x2="243.5" y2="450.2" stroke="#333" stroke-width="1" />
<line x1="237.5" y1="459.4" x2="243.5" y2="459.4" stroke="#333" stroke-width="1" />
<line x1="367.5" y1="429.8" x2="367.5" y2="451.3" stroke="#333" stroke-width="1" />
<line x1="364.5" y1="429.8" x2="370.5" y2="429.8" stroke="#333" stroke-width="1" />
<line x1="364.5" y1="451.3" x2="370.5" y2="451.3" stroke="#333" stroke-width="1" />
<rect x="110.89" y="467.39" width="4.214" height="4.214" fill="#00e0ea" stroke="#222" stroke-width="0.9"/>
<rect x="158.59" y="455.99" width="4.214" height="4.214" fill="#00e0ea" stroke="#222" stroke-width="0.9"/>
<rect x="174.29" y="456.99" width="4.214" height="4.214" fill="#00e0ea" stroke="#222" stroke-width="0.9"/>
<rect x="190.29" y="457.39" width="4.214" height="4.214" fill="#00e0ea" stroke="#222" stroke-width="0.9"/>
<rect x="206.09" y="438.89" width="4.214" height="4.214" fill="#00e0ea" stroke="#222" stroke-width="0.9"/>
<rect x="221.89" y="454.89" width="4.214" height="4.214" fill="#00e0ea" stroke="#222" stroke-width="0.9"/>
<rect x="237.89" y="452.99" width="4.214" height="4.214" fill="#00e0ea" stroke="#222" stroke-width="0.9"/>
<rect x="285.59" y="451.99" width="4.214" height="4.214" fill="#00e0ea" stroke="#222" stroke-width="0.9"/>
<rect x="301.69" y="447.19" width="4.214" height="4.214" fill="#00e0ea" stroke="#222" stroke-width="0.9"/>
<rect x="317.49" y="445.29" width="4.214" height="4.214" fill="#00e0ea" stroke="#222" stroke-width="0.9"/>
<rect x="333.59" y="455.59" width="4.214" height="4.214" fill="#00e0ea" stroke="#222" stroke-width="0.9"/>
<rect x="349.39" y="449.19" width="4.214" height="4.214" fill="#00e0ea" stroke="#222" stroke-width="0.9"/>
<rect x="365.19" y="438.39" width="4.214" height="4.214" fill="#00e0ea" stroke="#222" stroke-width="0.9"/>
<path d="M112.9,318.61 L115.39,321.1 L112.9,323.59 L110.41,321.1 Z" fill="#e80000" stroke="#300" stroke-width="0.9"/>
<path d="M160.5,359.61 L162.99,362.1 L160.5,364.59 L158.01,362.1 Z" fill="#e80000" stroke="#300" stroke-width="0.9"/>
<path d="M176.4,360.71 L178.89,363.2 L176.4,365.69 L173.91,363.2 Z" fill="#e80000" stroke="#300" stroke-width="0.9"/>
<path d="M192.5,367.41 L194.99,369.9 L192.5,372.39 L190.01,369.9 Z" fill="#e80000" stroke="#300" stroke-width="0.9"/>
<path d="M208.4,389.71 L210.89,392.2 L208.4,394.69 L205.91,392.2 Z" fill="#e80000" stroke="#300" stroke-width="0.9"/>
<path d="M224,399.81 L226.49,402.3 L224,404.79 L221.51,402.3 Z" fill="#e80000" stroke="#300" stroke-width="0.9"/>
<path d="M240.1,408.51 L242.59,411 L240.1,413.49 L237.61,411 Z" fill="#e80000" stroke="#300" stroke-width="0.9"/>
<path d="M287.7,446.01 L290.19,448.5 L287.7,450.99 L285.21,448.5 Z" fill="#e80000" stroke="#300" stroke-width="0.9"/>
<path d="M303.8,456.01 L306.29,458.5 L303.8,460.99 L301.31,458.5 Z" fill="#e80000" stroke="#300" stroke-width="0.9"/>
<path d="M319.6,465.41 L322.09,467.9 L319.6,470.39 L317.11,467.9 Z" fill="#e80000" stroke="#300" stroke-width="0.9"/>
<path d="M335.7,467.01 L338.19,469.5 L335.7,471.99 L333.21,469.5 Z" fill="#e80000" stroke="#300" stroke-width="0.9"/>
<path d="M351.5,467.01 L353.99,469.5 L351.5,471.99 L349.01,469.5 Z" fill="#e80000" stroke="#300" stroke-width="0.9"/>
<path d="M367.3,467.01 L369.79,469.5 L367.3,471.99 L364.81,469.5 Z" fill="#e80000" stroke="#300" stroke-width="0.9"/>
<circle cx="113" cy="469.5" r="2.1929999999999996" fill="#00e000" stroke="#222" stroke-width="0.8"/>
<circle cx="160.7" cy="416.1" r="2.1929999999999996" fill="#00e000" stroke="#222" stroke-width="0.8"/>
<circle cx="176.4" cy="397.6" r="2.1929999999999996" fill="#00e000" stroke="#222" stroke-width="0.8"/>
<circle cx="192.5" cy="384" r="2.1929999999999996" fill="#00e000" stroke="#222" stroke-width="0.8"/>
<circle cx="208.5" cy="376.4" r="2.1929999999999996" fill="#00e000" stroke="#222" stroke-width="0.8"/>
<circle cx="224.3" cy="364.5" r="2.1929999999999996" fill="#00e000" stroke="#222" stroke-width="0.8"/>
<circle cx="240.1" cy="360.9" r="2.1929999999999996" fill="#00e000" stroke="#222" stroke-width="0.8"/>
<circle cx="287.8" cy="348.6" r="2.1929999999999996" fill="#00e000" stroke="#222" stroke-width="0.8"/>
<circle cx="303.8" cy="336.1" r="2.1929999999999996" fill="#00e000" stroke="#222" stroke-width="0.8"/>
<circle cx="319.6" cy="338" r="2.1929999999999996" fill="#00e000" stroke="#222" stroke-width="0.8"/>
<circle cx="335.7" cy="343.7" r="2.1929999999999996" fill="#00e000" stroke="#222" stroke-width="0.8"/>
<circle cx="351.5" cy="326.7" r="2.1929999999999996" fill="#00e000" stroke="#222" stroke-width="0.8"/>
<circle cx="367.3" cy="345.3" r="2.1929999999999996" fill="#00e000" stroke="#222" stroke-width="0.8"/>
<path d="M158.55,405.98 L162.85,409.42 M158.55,409.42 L162.85,405.98" stroke="#000" stroke-width="1.35"/>
<path d="M174.25,398.38 L178.55,401.82 M174.25,401.82 L178.55,398.38" stroke="#000" stroke-width="1.35"/>
<path d="M190.25,398.38 L194.55,401.82 M190.25,401.82 L194.55,398.38" stroke="#000" stroke-width="1.35"/>
<path d="M206.35,393.08 L210.65,396.52 M206.35,396.52 L210.65,393.08" stroke="#000" stroke-width="1.35"/>
<path d="M221.85,400.78 L226.15,404.22 M221.85,404.22 L226.15,400.78" stroke="#000" stroke-width="1.35"/>
<path d="M237.95,382.68 L242.25,386.12 M237.95,386.12 L242.25,382.68" stroke="#000" stroke-width="1.35"/>
<path d="M285.55,384.58 L289.85,388.02 M285.55,388.02 L289.85,384.58" stroke="#000" stroke-width="1.35"/>
<path d="M301.65,374.78 L305.95,378.22 M301.65,378.22 L305.95,374.78" stroke="#000" stroke-width="1.35"/>
<path d="M317.45,378.08 L321.75,381.52 M317.45,381.52 L321.75,378.08" stroke="#000" stroke-width="1.35"/>
<path d="M333.55,387.08 L337.85,390.52 M333.55,390.52 L337.85,387.08" stroke="#000" stroke-width="1.35"/>
<path d="M349.35,391.48 L353.65,394.92 M349.35,394.92 L353.65,391.48" stroke="#000" stroke-width="1.35"/>
<path d="M365.15,389.48 L369.45,392.92 M365.15,392.92 L369.45,389.48" stroke="#000" stroke-width="1.35"/>
<line x1="56" y1="552.9" x2="56" y2="740.9" stroke="#555" stroke-width="1.4" />
<line x1="52.5" y1="740.4" x2="56" y2="740.4" stroke="#555" stroke-width="1" />
<text x="47.1" y="744.3" font-size="12" text-anchor="end" >0</text>
<line x1="52.5" y1="703" x2="56" y2="703" stroke="#555" stroke-width="1" />
<text x="47.1" y="706.9" font-size="12" text-anchor="end" >2</text>
<line x1="52.5" y1="665.6" x2="56" y2="665.6" stroke="#555" stroke-width="1" />
<text x="47.1" y="669.5" font-size="12" text-anchor="end" >4</text>
<line x1="52.5" y1="628.2" x2="56" y2="628.2" stroke="#555" stroke-width="1" />
<text x="47.1" y="632.1" font-size="12" text-anchor="end" >6</text>
<line x1="52.5" y1="590.8" x2="56" y2="590.8" stroke="#555" stroke-width="1" />
<text x="47.1" y="594.7" font-size="12" text-anchor="end" >8</text>
<line x1="52.5" y1="553.4" x2="56" y2="553.4" stroke="#555" stroke-width="1" />
<text x="47.1" y="557.3" font-size="12" text-anchor="end" >10</text>
<line x1="111.5" y1="553.4" x2="111.5" y2="740.4" stroke="#444" stroke-width="1.2" />
<line x1="108.5" y1="740.4" x2="111.5" y2="740.4" stroke="#555" stroke-width="1" />
<text x="103" y="744.3" font-size="12" text-anchor="end" >0</text>
<line x1="111.5" y1="717.02" x2="113" y2="717.02" stroke="#555" stroke-width="1" />
<line x1="108.5" y1="693.65" x2="111.5" y2="693.65" stroke="#555" stroke-width="1" />
<text x="103" y="697.55" font-size="12" text-anchor="end" >4</text>
<line x1="111.5" y1="670.27" x2="113" y2="670.27" stroke="#555" stroke-width="1" />
<line x1="108.5" y1="646.9" x2="111.5" y2="646.9" stroke="#555" stroke-width="1" />
<text x="103" y="650.8" font-size="12" text-anchor="end" >8</text>
<line x1="111.5" y1="623.52" x2="113" y2="623.52" stroke="#555" stroke-width="1" />
<line x1="108.5" y1="600.15" x2="111.5" y2="600.15" stroke="#555" stroke-width="1" />
<text x="103" y="604.05" font-size="12" text-anchor="end" >12</text>
<line x1="111.5" y1="576.77" x2="113" y2="576.77" stroke="#555" stroke-width="1" />
<line x1="108.5" y1="553.4" x2="111.5" y2="553.4" stroke="#555" stroke-width="1" />
<text x="103" y="557.3" font-size="12" text-anchor="end" >16</text>
<line x1="111.5" y1="553.3" x2="380.4" y2="553.3" stroke="#444" stroke-width="1.2" />
<line x1="111.5" y1="740.6" x2="380.4" y2="740.6" stroke="#333" stroke-width="1.15" />
<line x1="111.5" y1="740.4" x2="111.5" y2="743.4" stroke="#555" stroke-width="1" />
<text x="111.5" y="760" font-size="12" text-anchor="middle" >0</text>
<line x1="165.28" y1="740.4" x2="165.28" y2="743.4" stroke="#555" stroke-width="1" />
<text x="165.28" y="760" font-size="12" text-anchor="middle" >10</text>
<line x1="219.06" y1="740.4" x2="219.06" y2="743.4" stroke="#555" stroke-width="1" />
<text x="219.06" y="760" font-size="12" text-anchor="middle" >20</text>
<line x1="272.84" y1="740.4" x2="272.84" y2="743.4" stroke="#555" stroke-width="1" />
<text x="272.84" y="760" font-size="12" text-anchor="middle" >30</text>
<line x1="326.62" y1="740.4" x2="326.62" y2="743.4" stroke="#555" stroke-width="1" />
<text x="326.62" y="760" font-size="12" text-anchor="middle" >40</text>
<line x1="380.4" y1="740.4" x2="380.4" y2="743.4" stroke="#555" stroke-width="1" />
<text x="380.4" y="760" font-size="12" text-anchor="middle" >50</text>
<line x1="388" y1="552.9" x2="388" y2="740.9" stroke="#555" stroke-width="1.4" />
<line x1="388" y1="740.4" x2="391" y2="740.4" stroke="#555" stroke-width="1" />
<text x="396" y="744.3" font-size="12" text-anchor="start" >0</text>
<line x1="388" y1="709.23" x2="391" y2="709.23" stroke="#555" stroke-width="1" />
<text x="396" y="713.13" font-size="12" text-anchor="start" >200</text>
<line x1="388" y1="678.07" x2="391" y2="678.07" stroke="#555" stroke-width="1" />
<text x="396" y="681.97" font-size="12" text-anchor="start" >400</text>
<line x1="388" y1="646.9" x2="391" y2="646.9" stroke="#555" stroke-width="1" />
<text x="396" y="650.8" font-size="12" text-anchor="start" >600</text>
<line x1="388" y1="615.73" x2="391" y2="615.73" stroke="#555" stroke-width="1" />
<text x="396" y="619.63" font-size="12" text-anchor="start" >800</text>
<line x1="388" y1="584.57" x2="391" y2="584.57" stroke="#555" stroke-width="1" />
<text x="396" y="588.47" font-size="12" text-anchor="start" >1000</text>
<line x1="388" y1="553.4" x2="391" y2="553.4" stroke="#555" stroke-width="1" />
<text x="396" y="557.3" font-size="12" text-anchor="start" >1200</text>
<line x1="461.5" y1="552.9" x2="461.5" y2="740.9" stroke="#444" stroke-width="1.2" />
<line x1="461.5" y1="740.4" x2="464.5" y2="740.4" stroke="#555" stroke-width="1" />
<text x="470" y="744.3" font-size="12" text-anchor="start" >0</text>
<line x1="461.5" y1="703" x2="464.5" y2="703" stroke="#555" stroke-width="1" />
<text x="470" y="706.9" font-size="12" text-anchor="start" >10</text>
<line x1="461.5" y1="665.6" x2="464.5" y2="665.6" stroke="#555" stroke-width="1" />
<text x="470" y="669.5" font-size="12" text-anchor="start" >20</text>
<line x1="461.5" y1="628.2" x2="464.5" y2="628.2" stroke="#555" stroke-width="1" />
<text x="470" y="632.1" font-size="12" text-anchor="start" >30</text>
<line x1="461.5" y1="590.8" x2="464.5" y2="590.8" stroke="#555" stroke-width="1" />
<text x="470" y="594.7" font-size="12" text-anchor="start" >40</text>
<line x1="461.5" y1="553.4" x2="464.5" y2="553.4" stroke="#555" stroke-width="1" />
<text x="470" y="557.3" font-size="12" text-anchor="start" >50</text>
<text transform="translate(25.4,629.8) rotate(-90)" font-size="12" text-anchor="middle">Glucose (g/L)</text>
<text transform="translate(77.6,627.7) rotate(-90)" font-size="11.7" text-anchor="middle">OD<tspan dx="-0.8" dy="3">600</tspan><tspan dx="0.8" dy="-3"> (-)</tspan></text>
<text transform="translate(439.5,629.8) rotate(-90)" font-size="12.2" text-anchor="middle">Surfactin (mg/L)</text>
<text transform="translate(500.2,630.8) rotate(-90)" font-size="11.9" text-anchor="middle">Fengycin&#160; (mg/L)</text>
<text x="246.2" y="779" font-size="11.8" text-anchor="middle" >Time (h)</text>
<text x="263.7" y="800" font-size="14" text-anchor="middle" class="cap"><tspan style="font-weight:normal">(</tspan>C<tspan style="font-weight:normal">)</tspan></text>
<path d="M20.9,683.41 L23.39,685.9 L20.9,688.39 L18.41,685.9 Z" fill="#e80000" stroke="#300" stroke-width="0.9"/>
<line x1="74.8" y1="664.4" x2="74.8" y2="692.5" stroke="#222" stroke-width="1.0" stroke-dasharray="8,3"/>
<path d="M73.08,674.75 L76.52,679.05 M73.08,679.05 L76.52,674.75" stroke="#000" stroke-width="1.35"/>
<circle cx="436.5" cy="692.1" r="2.1929999999999996" fill="#00e000" stroke="#222" stroke-width="0.8"/>
<rect x="494.89" y="692.39" width="4.214" height="4.214" fill="#00e0ea" stroke="#222" stroke-width="0.9"/>
<path d="M111.5,740.4 L112.5,736.0 L113.9,730.3 L115.5,725.0 L117.8,720.5 L120.5,717.8 L123.6,716.2 L126.5,715.3 L129.5,714.8 L133.0,714.5 L369.6,714.5" fill="none" stroke="#5ee0e6" stroke-width="1.15"/>
<path d="M111.5,740.3 L114.8,736.0 L118.0,731.8 L121.3,727.7 L124.6,723.6 L127.8,719.7 L131.1,715.8 L134.4,712.1 L137.6,708.4 L140.9,704.8 L144.2,701.3 L147.4,697.9 L150.7,694.6 L154.0,691.3 L157.2,688.1 L160.5,685.0 L163.8,682.0 L167.0,679.0 L170.3,676.2 L173.6,673.3 L176.8,670.6 L180.1,667.9 L183.4,665.3 L186.6,662.7 L189.9,660.2 L193.2,657.8 L196.4,655.4 L199.7,653.1 L203.0,650.9 L206.2,648.7 L209.5,646.5 L212.8,644.4 L216.0,642.4 L219.3,640.4 L222.6,638.5 L225.8,636.6 L229.1,634.7 L232.4,632.9 L235.6,631.2 L238.9,629.4 L242.2,627.8 L245.5,626.1 L248.7,624.5 L252.0,623.0 L255.3,621.4 L258.5,619.9 L261.8,618.5 L265.1,617.1 L268.3,615.7 L271.6,614.3 L274.9,613.0 L278.1,611.7 L281.4,610.4 L284.7,609.1 L287.9,607.9 L291.2,606.7 L294.5,605.5 L297.7,604.4 L301.0,603.2 L304.3,602.1 L307.5,601.0 L310.8,600.0 L314.1,598.9 L317.3,597.9 L320.6,596.8 L323.9,595.8 L327.1,594.8 L330.4,593.9 L333.7,592.9 L336.9,591.9 L340.2,591.0 L343.5,590.0 L346.7,589.1 L350.0,588.2 L353.3,587.3 L356.5,586.4 L359.8,585.5 L363.1,584.6 L366.3,583.7 L369.6,582.8" fill="none" stroke="#5ad85a" stroke-width="1.15"/>
<path d="M111.5,588.7 L114.8,591.1 L118.0,593.5 L121.3,596.0 L124.6,598.6 L127.8,601.2 L131.1,603.8 L134.4,606.5 L137.6,609.2 L140.9,612.0 L144.2,614.7 L147.4,617.5 L150.7,620.3 L154.0,623.1 L157.2,625.9 L160.5,628.7 L163.8,631.5 L167.0,634.3 L170.3,637.1 L173.6,639.9 L176.8,642.7 L180.1,645.5 L183.4,648.2 L186.6,651.0 L189.9,653.7 L193.2,656.4 L196.4,659.0 L199.7,661.6 L203.0,664.2 L206.2,666.8 L209.5,669.3 L212.8,671.8 L216.0,674.3 L219.3,676.7 L222.6,679.1 L225.8,681.4 L229.1,683.7 L232.4,685.9 L235.6,688.1 L238.9,690.3 L242.2,692.4 L245.5,694.4 L248.7,696.4 L252.0,698.4 L255.3,700.3 L258.5,702.1 L261.8,703.9 L265.1,705.7 L268.3,707.4 L271.6,709.1 L274.9,710.7 L278.1,712.2 L281.4,713.7 L284.7,715.2 L287.9,716.6 L291.2,718.0 L294.5,719.3 L297.7,720.6 L301.0,721.8 L304.3,723.0 L307.5,724.2 L310.8,725.3 L314.1,726.4 L317.3,727.4 L320.6,728.4 L323.9,729.4 L327.1,730.4 L330.4,731.3 L333.7,732.2 L336.9,733.1 L340.2,734.0 L343.5,734.8 L346.7,735.6 L350.0,736.4 L353.3,737.3 L356.5,738.1 L359.8,738.9 L363.1,739.7 L366.3,740.5 L369.6,741.3" fill="none" stroke="#d03c3c" stroke-width="1.15"/>
<path d="M111.5,740.4 L159.8,728.4 L176.0,627.3 L192.0,627.7 L208.2,621.9 L224.2,637.1 L240.4,629.3 L289.0,612.4 L305.1,617.5 L320.8,616.0 L337.5,616.0 L353.5,620.6 L369.6,616.0" fill="none" stroke="#222" stroke-width="1.0" stroke-dasharray="7,3.5"/>
<line x1="176.5" y1="618" x2="176.5" y2="636.1" stroke="#333" stroke-width="1" />
<line x1="173.5" y1="618" x2="179.5" y2="618" stroke="#333" stroke-width="1" />
<line x1="173.5" y1="636.1" x2="179.5" y2="636.1" stroke="#333" stroke-width="1" />
<line x1="192.5" y1="615.6" x2="192.5" y2="640" stroke="#333" stroke-width="1" />
<line x1="189.5" y1="615.6" x2="195.5" y2="615.6" stroke="#333" stroke-width="1" />
<line x1="189.5" y1="640" x2="195.5" y2="640" stroke="#333" stroke-width="1" />
<line x1="224.5" y1="630.9" x2="224.5" y2="645.3" stroke="#333" stroke-width="1" />
<line x1="221.5" y1="630.9" x2="227.5" y2="630.9" stroke="#333" stroke-width="1" />
<line x1="221.5" y1="645.3" x2="227.5" y2="645.3" stroke="#333" stroke-width="1" />
<line x1="240.5" y1="617.5" x2="240.5" y2="641.8" stroke="#333" stroke-width="1" />
<line x1="237.5" y1="617.5" x2="243.5" y2="617.5" stroke="#333" stroke-width="1" />
<line x1="237.5" y1="641.8" x2="243.5" y2="641.8" stroke="#333" stroke-width="1" />
<line x1="289.5" y1="608.4" x2="289.5" y2="616.9" stroke="#333" stroke-width="1" />
<line x1="286.5" y1="608.4" x2="292.5" y2="608.4" stroke="#333" stroke-width="1" />
<line x1="286.5" y1="616.9" x2="292.5" y2="616.9" stroke="#333" stroke-width="1" />
<line x1="320.5" y1="611.8" x2="320.5" y2="619" stroke="#333" stroke-width="1" />
<line x1="317.5" y1="611.8" x2="323.5" y2="611.8" stroke="#333" stroke-width="1" />
<line x1="317.5" y1="619" x2="323.5" y2="619" stroke="#333" stroke-width="1" />
<line x1="353.5" y1="615.4" x2="353.5" y2="625.4" stroke="#333" stroke-width="1" />
<line x1="350.5" y1="615.4" x2="356.5" y2="615.4" stroke="#333" stroke-width="1" />
<line x1="350.5" y1="625.4" x2="356.5" y2="625.4" stroke="#333" stroke-width="1" />
<line x1="176.5" y1="641" x2="176.5" y2="647.3" stroke="#333" stroke-width="1" />
<line x1="173.5" y1="641" x2="179.5" y2="641" stroke="#333" stroke-width="1" />
<line x1="173.5" y1="647.3" x2="179.5" y2="647.3" stroke="#333" stroke-width="1" />
<line x1="240.5" y1="690.9" x2="240.5" y2="697.1" stroke="#333" stroke-width="1" />
<line x1="237.5" y1="690.9" x2="243.5" y2="690.9" stroke="#333" stroke-width="1" />
<line x1="237.5" y1="697.1" x2="243.5" y2="697.1" stroke="#333" stroke-width="1" />
<line x1="305.5" y1="711.3" x2="305.5" y2="728.1" stroke="#333" stroke-width="1" />
<line x1="302.5" y1="711.3" x2="308.5" y2="711.3" stroke="#333" stroke-width="1" />
<line x1="302.5" y1="728.1" x2="308.5" y2="728.1" stroke="#333" stroke-width="1" />
<line x1="321.5" y1="723.6" x2="321.5" y2="733.8" stroke="#333" stroke-width="1" />
<line x1="318.5" y1="723.6" x2="324.5" y2="723.6" stroke="#333" stroke-width="1" />
<line x1="318.5" y1="733.8" x2="324.5" y2="733.8" stroke="#333" stroke-width="1" />
<line x1="337.5" y1="728.7" x2="337.5" y2="740" stroke="#333" stroke-width="1" />
<line x1="334.5" y1="728.7" x2="340.5" y2="728.7" stroke="#333" stroke-width="1" />
<line x1="334.5" y1="740" x2="340.5" y2="740" stroke="#333" stroke-width="1" />
<line x1="159.5" y1="686" x2="159.5" y2="728" stroke="#333" stroke-width="1" />
<line x1="156.5" y1="686" x2="162.5" y2="686" stroke="#333" stroke-width="1" />
<line x1="156.5" y1="728" x2="162.5" y2="728" stroke="#333" stroke-width="1" />
<line x1="192.5" y1="693.2" x2="192.5" y2="721.1" stroke="#333" stroke-width="1" />
<line x1="189.5" y1="693.2" x2="195.5" y2="693.2" stroke="#333" stroke-width="1" />
<line x1="189.5" y1="721.1" x2="195.5" y2="721.1" stroke="#333" stroke-width="1" />
<line x1="208.5" y1="715.3" x2="208.5" y2="725" stroke="#333" stroke-width="1" />
<line x1="205.5" y1="715.3" x2="211.5" y2="715.3" stroke="#333" stroke-width="1" />
<line x1="205.5" y1="725" x2="211.5" y2="725" stroke="#333" stroke-width="1" />
<line x1="224.5" y1="720.5" x2="224.5" y2="730.3" stroke="#333" stroke-width="1" />
<line x1="221.5" y1="720.5" x2="227.5" y2="720.5" stroke="#333" stroke-width="1" />
<line x1="221.5" y1="730.3" x2="227.5" y2="730.3" stroke="#333" stroke-width="1" />
<line x1="240.5" y1="710.4" x2="240.5" y2="729.9" stroke="#333" stroke-width="1" />
<line x1="237.5" y1="710.4" x2="243.5" y2="710.4" stroke="#333" stroke-width="1" />
<line x1="237.5" y1="729.9" x2="243.5" y2="729.9" stroke="#333" stroke-width="1" />
<line x1="288.5" y1="695.3" x2="288.5" y2="729.3" stroke="#333" stroke-width="1" />
<line x1="285.5" y1="695.3" x2="291.5" y2="695.3" stroke="#333" stroke-width="1" />
<line x1="285.5" y1="729.3" x2="291.5" y2="729.3" stroke="#333" stroke-width="1" />
<line x1="321.5" y1="713.3" x2="321.5" y2="723.6" stroke="#333" stroke-width="1" />
<line x1="318.5" y1="713.3" x2="324.5" y2="713.3" stroke="#333" stroke-width="1" />
<line x1="318.5" y1="723.6" x2="324.5" y2="723.6" stroke="#333" stroke-width="1" />
<line x1="337.5" y1="685.6" x2="337.5" y2="697.5" stroke="#333" stroke-width="1" />
<line x1="334.5" y1="685.6" x2="340.5" y2="685.6" stroke="#333" stroke-width="1" />
<line x1="334.5" y1="697.5" x2="340.5" y2="697.5" stroke="#333" stroke-width="1" />
<line x1="369.5" y1="696.5" x2="369.5" y2="721.5" stroke="#333" stroke-width="1" />
<line x1="366.5" y1="696.5" x2="372.5" y2="696.5" stroke="#333" stroke-width="1" />
<line x1="366.5" y1="721.5" x2="372.5" y2="721.5" stroke="#333" stroke-width="1" />
<rect x="109.39" y="738.29" width="4.214" height="4.214" fill="#00e0ea" stroke="#222" stroke-width="0.9"/>
<rect x="157.69" y="704.79" width="4.214" height="4.214" fill="#00e0ea" stroke="#222" stroke-width="0.9"/>
<rect x="173.89" y="726.29" width="4.214" height="4.214" fill="#00e0ea" stroke="#222" stroke-width="0.9"/>
<rect x="190.29" y="705.19" width="4.214" height="4.214" fill="#00e0ea" stroke="#222" stroke-width="0.9"/>
<rect x="206.09" y="718.09" width="4.214" height="4.214" fill="#00e0ea" stroke="#222" stroke-width="0.9"/>
<rect x="222.29" y="723.29" width="4.214" height="4.214" fill="#00e0ea" stroke="#222" stroke-width="0.9"/>
<rect x="238.29" y="718.09" width="4.214" height="4.214" fill="#00e0ea" stroke="#222" stroke-width="0.9"/>
<rect x="286.49" y="710.19" width="4.214" height="4.214" fill="#00e0ea" stroke="#222" stroke-width="0.9"/>
<rect x="302.89" y="722.49" width="4.214" height="4.214" fill="#00e0ea" stroke="#222" stroke-width="0.9"/>
<rect x="318.89" y="716.39" width="4.214" height="4.214" fill="#00e0ea" stroke="#222" stroke-width="0.9"/>
<rect x="335.29" y="689.29" width="4.214" height="4.214" fill="#00e0ea" stroke="#222" stroke-width="0.9"/>
<rect x="351.29" y="708.09" width="4.214" height="4.214" fill="#00e0ea" stroke="#222" stroke-width="0.9"/>
<rect x="367.49" y="706.69" width="4.214" height="4.214" fill="#00e0ea" stroke="#222" stroke-width="0.9"/>
<path d="M111.5,586.41 L113.99,588.9 L111.5,591.39 L109.01,588.9 Z" fill="#e80000" stroke="#300" stroke-width="0.9"/>
<path d="M159.8,626.41 L162.29,628.9 L159.8,631.39 L157.31,628.9 Z" fill="#e80000" stroke="#300" stroke-width="0.9"/>
<path d="M176,641.41 L178.49,643.9 L176,646.39 L173.51,643.9 Z" fill="#e80000" stroke="#300" stroke-width="0.9"/>
<path d="M191.7,649.21 L194.19,651.7 L191.7,654.19 L189.21,651.7 Z" fill="#e80000" stroke="#300" stroke-width="0.9"/>
<path d="M208.3,661.51 L210.79,664 L208.3,666.49 L205.81,664 Z" fill="#e80000" stroke="#300" stroke-width="0.9"/>
<path d="M224.3,681.81 L226.79,684.3 L224.3,686.79 L221.81,684.3 Z" fill="#e80000" stroke="#300" stroke-width="0.9"/>
<path d="M240,691.11 L242.49,693.6 L240,696.09 L237.51,693.6 Z" fill="#e80000" stroke="#300" stroke-width="0.9"/>
<path d="M288.9,713.01 L291.39,715.5 L288.9,717.99 L286.41,715.5 Z" fill="#e80000" stroke="#300" stroke-width="0.9"/>
<path d="M305,717.61 L307.49,720.1 L305,722.59 L302.51,720.1 Z" fill="#e80000" stroke="#300" stroke-width="0.9"/>
<path d="M321,725.21 L323.49,727.7 L321,730.19 L318.51,727.7 Z" fill="#e80000" stroke="#300" stroke-width="0.9"/>
<path d="M337.4,732.41 L339.89,734.9 L337.4,737.39 L334.91,734.9 Z" fill="#e80000" stroke="#300" stroke-width="0.9"/>
<path d="M353.4,736.01 L355.89,738.5 L353.4,740.99 L350.91,738.5 Z" fill="#e80000" stroke="#300" stroke-width="0.9"/>
<path d="M369.6,737.91 L372.09,740.4 L369.6,742.89 L367.11,740.4 Z" fill="#e80000" stroke="#300" stroke-width="0.9"/>
<circle cx="111.5" cy="740.4" r="2.1929999999999996" fill="#00e000" stroke="#222" stroke-width="0.8"/>
<circle cx="159.8" cy="685" r="2.1929999999999996" fill="#00e000" stroke="#222" stroke-width="0.8"/>
<circle cx="176" cy="666.8" r="2.1929999999999996" fill="#00e000" stroke="#222" stroke-width="0.8"/>
<circle cx="191.7" cy="658.2" r="2.1929999999999996" fill="#00e000" stroke="#222" stroke-width="0.8"/>
<circle cx="208.3" cy="644.9" r="2.1929999999999996" fill="#00e000" stroke="#222" stroke-width="0.8"/>
<circle cx="224.2" cy="634.8" r="2.1929999999999996" fill="#00e000" stroke="#222" stroke-width="0.8"/>
<circle cx="240.4" cy="635.3" r="2.1929999999999996" fill="#00e000" stroke="#222" stroke-width="0.8"/>
<circle cx="289" cy="600.9" r="2.1929999999999996" fill="#00e000" stroke="#222" stroke-width="0.8"/>
<circle cx="305.1" cy="608.5" r="2.1929999999999996" fill="#00e000" stroke="#222" stroke-width="0.8"/>
<circle cx="320.8" cy="599.4" r="2.1929999999999996" fill="#00e000" stroke="#222" stroke-width="0.8"/>
<circle cx="337.5" cy="588.2" r="2.1929999999999996" fill="#00e000" stroke="#222" stroke-width="0.8"/>
<circle cx="353.5" cy="584.2" r="2.1929999999999996" fill="#00e000" stroke="#222" stroke-width="0.8"/>
<circle cx="369.6" cy="582.4" r="2.1929999999999996" fill="#00e000" stroke="#222" stroke-width="0.8"/>
<path d="M157.65,726.68 L161.95,730.12 M157.65,730.12 L161.95,726.68" stroke="#000" stroke-width="1.35"/>
<path d="M173.85,625.58 L178.15,629.02 M173.85,629.02 L178.15,625.58" stroke="#000" stroke-width="1.35"/>
<path d="M189.85,625.98 L194.15,629.42 M189.85,629.42 L194.15,625.98" stroke="#000" stroke-width="1.35"/>
<path d="M206.05,620.18 L210.35,623.62 M206.05,623.62 L210.35,620.18" stroke="#000" stroke-width="1.35"/>
<path d="M222.05,635.38 L226.35,638.82 M222.05,638.82 L226.35,635.38" stroke="#000" stroke-width="1.35"/>
<path d="M238.25,627.58 L242.55,631.02 M238.25,631.02 L242.55,627.58" stroke="#000" stroke-width="1.35"/>
<path d="M286.85,610.68 L291.15,614.12 M286.85,614.12 L291.15,610.68" stroke="#000" stroke-width="1.35"/>
<path d="M302.95,615.78 L307.25,619.22 M302.95,619.22 L307.25,615.78" stroke="#000" stroke-width="1.35"/>
<path d="M318.65,614.28 L322.95,617.72 M318.65,617.72 L322.95,614.28" stroke="#000" stroke-width="1.35"/>
<path d="M335.35,614.28 L339.65,617.72 M335.35,617.72 L339.65,614.28" stroke="#000" stroke-width="1.35"/>
<path d="M351.35,618.88 L355.65,622.32 M351.35,622.32 L355.65,618.88" stroke="#000" stroke-width="1.35"/>
<path d="M367.45,614.28 L371.75,617.72 M367.45,617.72 L371.75,614.28" stroke="#000" stroke-width="1.35"/>
</svg></body></html>
